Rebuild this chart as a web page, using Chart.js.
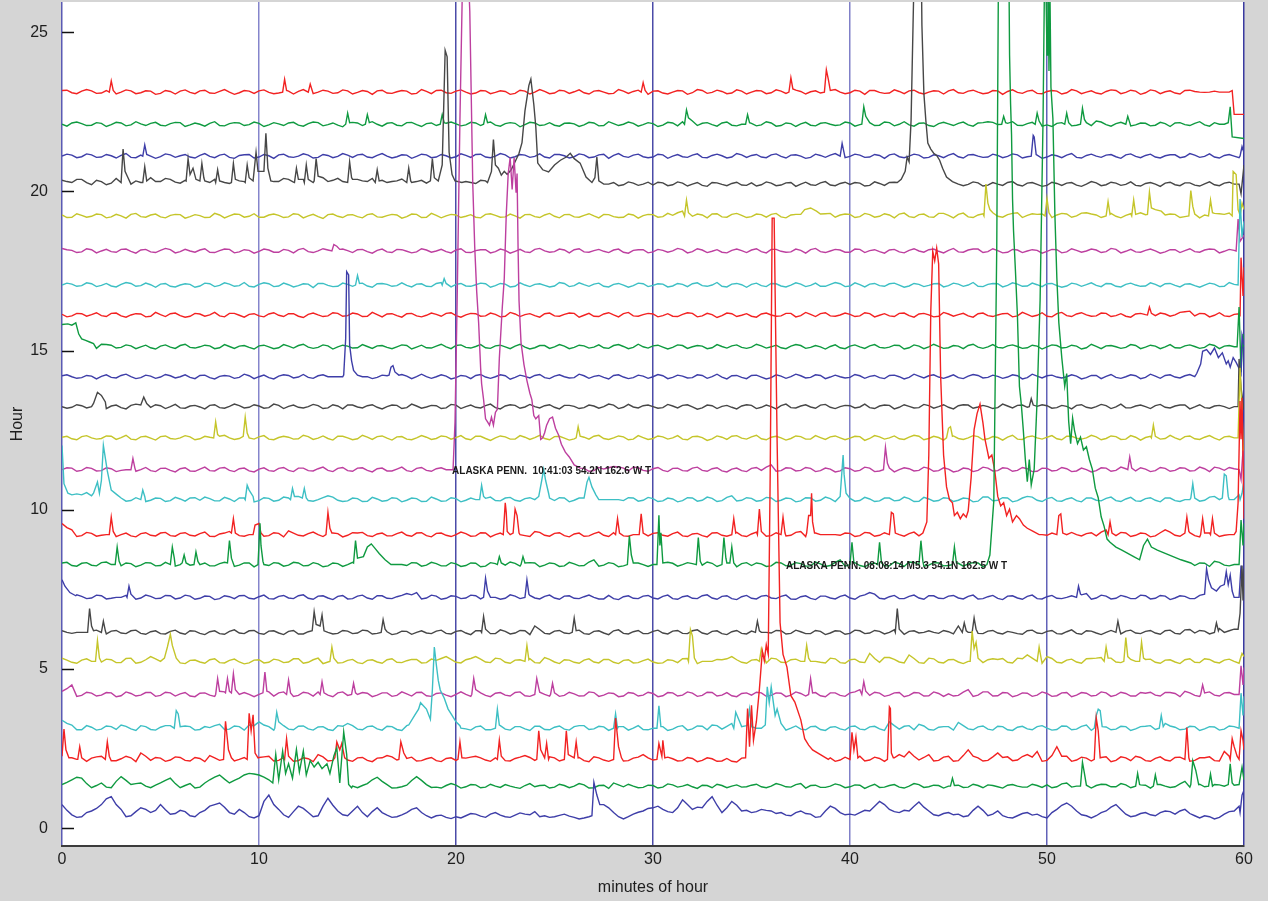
<!DOCTYPE html>
<html>
<head>
<meta charset="utf-8">
<script src="https://cdn.jsdelivr.net/npm/chart.js@4.4.1/dist/chart.umd.min.js"></script>
<style>
  html, body { margin: 0; padding: 0; background: #d5d5d5; }
  canvas { display: block; }
</style>
</head>
<body>
<canvas id="heli" width="1268" height="901"></canvas>
<script>
// Helicorder record: one trace per hour, plotted against minutes of the hour.
// Each trace = hour baseline + sampled wiggle (on-step and mid-step samples)
// + hand-read event segments that replace the samples they cover.

const SAMPLE_STEP = 0.5;   // minutes between on-step wiggle samples
const AMP_UNIT = 0.01;     // amplitudes are stored in hundredths of an hour row

const minuteTicks = [0, 10, 20, 30, 40, 50, 60];
const hourTicks = [0, 5, 10, 15, 20, 25];

const hourBaselines = [0.44, 1.32, 2.16, 3.14, 4.20, 5.24, 6.15, 7.25, 8.28, 9.22, 10.32, 11.26,
                       12.26, 13.24, 14.18, 15.12, 16.12, 17.06, 18.13, 19.23, 20.23, 21.11, 22.11, 23.12];

// ---- on-step wiggle, 121 values per hour (0, 0.5, ... 60 min) ----
const noise00 = [30,-2,-8,10,30,55,15,-5,20,5, 30,0,12,-5,5,25,35,5,15,-8, -5,60,15,-10,25,5,-5,50,10,-5, 25,-8,20,-3,-8,5,20,-5,-5,-10, -8,-5,0,-10,5,-8,-3,0,8,-5, -8,0,-10,-12,0,30,5,-15,0,10, 20,15,5,45,15,20,55,5,40,10, 5,15,10,5,-5,10,0,-8,25,5, 0,5,10,40,15,5,10,38,10,-5, 5,0,-5,25,-5,10,-10,-5,5,0, -12,15,35,10,-5,-5,10,30,0,-5, 5,-5,10,0,15,-5,-5,-15,0,10, 50];
const noise01 = [5,20,25,-5,10,-5,30,5,10,-5, 10,25,-5,8,-3,20,35,10,25,40, 35,20,0,0,0,0,0,0,0,0, -5,8,28,5,-5,3,30,5,-3,2, 3,-2,4,-3,0,5,-4,2,-2,3, -3,2,0,4,-5,3,10,-2,0,-4, 2,-3,4,0,-2,3,-5,2,0,-3, 3,-2,0,4,-3,8,2,-4,0,3, -2,3,0,-4,2,-3,0,5,-2,2, 0,3,-3,2,4,-2,3,0,-3,2, 4,-2,10,0,-3,2,5,-2,4,-3, 3,10,0,-2,15,3,-2,5,0,3, 5];
const noise02 = [0,5,-3,4,10,-4,2,5,20,-3, 4,-2,6,-5,3,12,-3,5,0,-4, 6,10,-3,5,-4,2,15,-5,10,-2, 5,-3,4,12,-2,3,-5,2,-4,3, -3,4,10,-2,5,-4,3,12,-3,2, 5,-3,15,-4,8,-2,3,-5,4,15, -2,8,2,-4,3,-3,2,-5,-6,4, 0,0,0,0,0,0,0,0,5,-2, 4,10,-2,3,-3,15,25,-2,15,-3, 10,-4,30,5,-3,20,8,-2,15,25, -3,40,10,-2,4,-4,8,-3,5,10, -4,3,-2,6,15,-3,5,-4,25,10, 0];
const noise03 = [25,10,-5,3,-3,5,10,-2,8,-4, 3,8,-2,5,-4,2,12,-3,5,10, 20,5,3,-3,6,-2,4,-4,8,15, -3,5,-2,6,-4,8,20,-3,0,0, 8,-2,4,-5,3,-3,5,-2,6,-4, 3,-3,5,8,-2,4,-3,5,0,-4, 0,5,-3,8,-2,6,10,-3,15,5, 20,0,0,0,0,-3,5,-4,3,-2, 5,-3,4,-2,20,-3,8,12,-4,3, 5,18,-2,4,-3,6,-5,3,-2,5, 0,-4,6,-3,10,0,4,-3,5,-2, 6,-4,15,3,-3,5,-2,4,-3,5, 20];
const noise04 = [10,30,-3,4,-2,5,-4,3,-2,6, -3,5,2,-5,4,-2,8,-3,0,0, 0,8,5,12,-3,4,8,-2,5,-3, 0,4,-2,5,-3,2,6,-4,3,-2, 0,0,5,-3,4,-2,6,-4,3,0, 5,-3,2,-4,6,-2,3,-5,4,-2, 3,-4,5,-2,4,-3,6,-2,-4,3, -2,5,-3,4,-2,3,0,-4,5,-3, 5,15,-3,4,-2,6,-3,5,-4,3, 2,-3,15,-2,8,-4,5,-3,4,-2, 3,-4,6,-2,4,-3,5,-2,3,-5, 4,-2,6,3,10,-3,4,-2,5,0, 0];
const noise05 = [10,-3,4,0,-2,5,-4,10,-3,15, 0,0,-5,3,-2,5,-4,3,-2,-5, 5,-3,4,-2,8,-3,10,-2,-5,3, -4,3,-2,5,-3,2,6,-4,3,15, -3,5,15,-2,10,-3,4,6,-4,12, -2,5,-3,4,-2,6,-3,3,-5,2, -2,-5,3,8,-4,0,0,5,15,-3, 4,-2,10,-3,5,0,0,-3,10,-4, 5,-2,25,-3,12,-2,20,-4,10,-3, 5,-2,0,-3,5,6,-3,10,20,-2, 15,-3,4,-2,8,10,25,-2,5,0, 6,-3,4,-2,5,-3,8,-2,4,0, 5];
const noise06 = [5,-3,0,0,0,4,-2,5,-3,2, -4,3,-2,5,-3,2,-4,3,-2,5, -3,4,-2,3,-5,2,0,0,-3,4, -2,5,-3,2,-4,3,0,-2,4,-3, 3,-2,5,0,-4,3,-2,5,20,-3, 4,-2,0,-4,3,-2,5,-3,2,-4, 3,-2,4,-3,5,-2,3,-4,2,-3, 4,0,-2,5,-3,2,-4,3,-2,4, -3,5,-2,3,0,-4,3,-2,5,-3, 2,20,0,-3,4,-2,3,-4,5,-2, 3,-4,2,-3,5,-2,0,-3,4,-2, 3,-2,5,-3,8,-2,4,20,0,10, 0];
const noise07 = [0,12,3,-2,5,-3,0,4,-2,3, -3,5,-2,4,-3,3,-4,2,5,-3, 2,-4,3,-2,5,-3,4,-2,3,-5, 4,-2,5,-3,2,12,15,-2,4,-3, 3,-2,5,0,0,-3,4,0,-2,3, -2,4,-3,2,0,-5,-4,2,-3,4, -2,3,-4,2,-3,5,-2,3,-4,2, -3,4,-2,3,-5,2,-3,4,-2,3, -2,4,15,-3,2,-4,3,-2,5,-3, 4,-2,3,-5,2,-3,4,-2,3,-4, 2,-3,0,5,12,-2,4,-3,2,-4, 5,-3,4,-2,3,-4,0,0,0,0, 0];
const noise08 = [5,-3,4,-2,6,0,-4,3,-2,5, -3,0,0,-2,0,-4,3,8,-2,5, 0,-3,4,-2,5,-3,2,-4,3,0, 0,0,0,0,0,-3,5,-2,3,-4, 2,-3,4,-5,3,-2,4,-3,5,-2, 3,-4,2,-3,15,-2,3,-4,0,0, 0,-3,4,0,3,-2,4,0,-2,3, -3,2,-4,5,-2,3,-4,2,-3,15, 0,-3,2,0,-4,3,8,0,-2,5, -3,4,2,5,-2,0,0,0,0,0, 0,0,0,0,0,0,0,0,0,0, 0,0,0,0,0,-3,4,10,-2,0, 8];
const noise09 = [35,15,-3,4,-2,3,0,-4,3,-2, 5,-3,4,-2,3,-5,2,10,-3,0, 0,-3,4,12,-2,3,0,-4,3,-2, 5,-3,2,-4,3,-2,5,-3,4,-2, 0,3,-4,5,0,0,0,-3,10,-2, 4,-3,2,-5,3,-2,6,-4,0,-3, 4,-2,3,-4,2,-3,5,-2,0,-3, 2,15,-3,4,-2,10,-3,0,0,-2, 4,-3,5,-2,0,0,3,-4,0,0, 0,0,0,0,0,0,0,0,0,0, -2,4,0,0,3,-4,15,-3,5,-2, 3,-4,15,-2,0,-3,5,0,-2,0, 0];
const noise10 = [0,20,15,12,20,25,5,-3,0,-2, 4,-3,2,5,-2,3,-4,2,5,0, -3,4,-2,5,10,-3,0,12,-2,-4, 3,-5,2,-3,4,-2,3,-5,2,-4, 3,-2,0,4,-3,5,-2,3,0,4, -3,5,-2,4,0,0,0,-3,5,-2, 3,-4,2,-3,5,-2,4,-3,12,-2, 4,-3,5,-2,3,-4,5,-2,3,0, 4,-3,2,-4,5,-2,3,-5,2,-3, 4,-2,3,-5,8,-2,5,-3,10,-2, 3,-4,2,-3,5,-2,4,-3,2,-4, 3,-2,5,-3,0,0,-2,10,0,0, 30];
const noise11 = [0,5,-2,4,-3,3,-2,0,0,-3, 4,-2,3,-4,2,-3,5,-2,3,-4, 2,-3,4,-2,5,-3,3,-2,4,-3, 5,-2,3,-4,2,-3,4,-2,3,0, 0,0,0,0,0,0,0,0,0,0, 0,0,0,4,-3,2,10,5,8,-2, 3,-2,4,-3,5,-2,3,-4,2,-3, 4,-2,15,-3,5,-2,4,-3,2,-4, 3,-2,5,-4,0,0,3,-2,4,-3, 2,-4,3,-2,5,-3,4,-2,3,-5, 4,-2,3,-4,0,-3,5,-2,3,-4, 2,-3,4,-2,5,-3,3,8,-2,3, 5];
const noise12 = [2,-3,4,0,-2,5,1,-4,3,-1, 4,-2,0,3,-3,2,5,0,-2,0, 3,-4,1,2,-3,4,-1,-2,5,0, -3,2,4,-1,3,-4,0,2,-2,4, 1,-3,5,-2,0,3,-4,2,1,-2, 4,-1,-3,2,5,-2,0,3,-4,1, -2,3,0,-4,4,1,-3,2,5,-1, 3,-3,2,0,-2,4,-4,1,3,0, -1,4,-2,3,0,-3,2,5,-2,1, 3,-2,0,4,-3,1,2,-4,3,0, 2,-3,5,-1,0,3,-2,4,-4,2, 1,3,-2,0,4,-3,2,-1,3,0, 0];
const noise13 = [0,-2,3,0,0,2,-3,4,1,-2, 3,0,-4,2,-1,4,-3,1,3,-2, 2,-3,4,1,-2,0,3,-4,2,5, -1,3,-2,0,4,-3,2,-1,3,-4, 5,0,-2,3,-3,2,4,-1,0,3, -2,4,1,-3,2,0,5,-2,-1,3, 0,-3,2,4,-1,-4,3,1,-2,2, 4,-2,0,3,-3,2,-1,5,-2,0, 3,-1,-3,2,4,-2,1,-3,3,0, -2,3,5,-1,0,-3,2,4,-2,1, 3,-3,1,4,-2,0,3,-1,-4,2, 0,3,-2,2,5,-1,-3,2,0,0, 0];
const noise14 = [3,0,-3,2,1,-2,4,0,-3,2, -1,3,0,-2,4,-3,1,2,-2,3, 0,-3,2,4,-1,-2,3,0,0,0, 0,0,-2,3,-1,2,0,0,0,2, -3,2,4,-1,0,3,-2,1,4,-3, 2,0,-3,3,1,-2,4,-1,-3,2, 0,3,-2,2,-3,4,0,-1,3,-2, 4,-1,-3,2,0,3,-2,4,-1,0, -2,3,1,-3,4,0,-2,2,3,-1, 0,-3,2,4,-2,1,-1,3,-3,2, 3,-1,0,2,-3,4,1,-2,0,3, -2,2,4,-1,3,0,0,0,0,0, 0];
const noise15 = [0,0,0,0,8,5,-2,3,0,-3, 2,-1,4,-2,0,3,-3,1,2,-2, 3,0,-3,2,4,-1,-2,3,0,2, -3,1,3,-2,0,4,-1,-3,2,0, 4,-2,1,-3,3,0,2,-1,-3,4, 0,2,-2,3,-1,-3,4,1,-2,0, 3,-1,-2,4,0,2,-3,1,3,-2, -1,3,0,-3,2,4,-2,0,1,-3, 2,0,3,-2,-1,4,-3,2,0,1, -3,2,4,-1,0,-2,3,1,-3,2, 0,4,-2,2,-3,1,3,0,-2,4, -1,2,0,-3,3,1,-2,4,2,0, 0];
const noise16 = [2,-3,4,1,-2,5,-3,0,3,-4, 1,4,-2,-4,3,0,-3,5,-1,2, -3,3,-1,4,-4,2,0,-3,5,-2, 3,-4,1,3,-2,4,-3,-1,2,5, -2,0,4,-3,2,-4,3,1,-2,4, -3,2,5,-1,-4,3,0,4,-3,1, 3,-2,-4,2,5,-3,1,-2,4,-1, -4,3,0,-3,5,-2,2,4,-3,0, 2,-3,4,-1,-3,5,-2,3,0,-4, 3,1,-3,4,-2,0,5,-3,2,-1, -4,4,-2,3,0,-3,5,-2,-4,3, 1,-2,3,0,10,-3,4,-1,-3,2, 0];
const noise17 = [0,3,-2,4,-1,-3,2,5,-2,1, 3,-4,0,2,-3,4,-1,3,-2,-4, 2,4,-3,1,-2,3,5,-1,-4,2, 0,-3,4,2,-2,-1,3,-4,5,0, 2,-3,1,4,-2,3,-4,0,2,-1, -3,5,-2,1,3,-4,2,0,-2,4, -1,3,-3,2,4,-2,0,-4,3,1, 2,-2,5,-3,0,3,-1,-4,2,4, -3,1,3,-2,4,0,-3,2,-1,5, -2,3,0,-4,2,4,-1,3,-3,1, 4,-2,-3,3,1,-1,5,-4,2,0, -3,2,4,-1,3,-2,0,3,-4,2, 0];
const noise18 = [8,2,-3,4,0,-2,5,-1,3,-3, 2,4,-2,0,3,-4,1,5,-3,2, -1,3,-4,2,4,-2,0,3,-3,1, 4,-2,2,-3,5,-1,-3,3,0,-2, 3,-4,1,4,-2,2,-1,-3,5,0, -2,3,4,-3,1,-1,3,-4,2,4, -3,2,0,4,-2,3,-1,-4,2,1, 3,-2,5,-1,-3,2,4,-2,0,3, -4,5,1,-2,3,-3,2,0,4,-1, 2,-3,3,6,-2,1,-4,3,0,2, -1,4,-3,2,0,3,-2,5,-1,-3, 2,0,-3,4,1,-2,3,5,-1,2, 0];
const noise19 = [3,-4,2,-1,4,-3,0,5,-2,3, -3,2,4,-2,1,-4,3,0,5,-1, -4,3,2,-3,5,0,-2,4,-1,3, -2,4,-3,1,3,-2,5,-4,2,0, 3,-1,-4,5,2,-3,0,4,-2,3, -1,4,-3,2,0,5,-2,-4,3,1, 4,-2,2,15,-1,3,6,-3,5,2, -2,4,5,-3,3,-1,2,6,8,3, 5,-2,4,-1,3,6,-2,4,-3,8, 2,5,-3,3,8,-1,4,10,2,5, -2,3,6,0,10,3,5,-1,2,6, 4,8,3,5,-2,6,3,8,5,4, 10];
const noise20 = [12,5,15,-2,8,3,10,0,5,20, 8,15,3,18,25,5,12,2,10,15, 5,20,8,15,5,12,25,8,18,5, 15,8,25,5,10,20,8,3,10,15, 5,8,2,10,5,0,0,0,0,0, 0,0,0,0,0,0,5,-2,3,0, -3,4,-2,3,0,-4,5,-1,2,-3, 4,-2,3,-3,5,0,-2,4,-3,2, -1,3,-4,2,5,0,0,0,0,0, -3,2,-1,4,-3,0,5,-2,3,-1, -4,2,3,-3,0,4,-2,3,-1,-4, 2,0,3,-2,4,-3,1,-2,3,0, 0];
const noise21 = [0,3,-2,4,-3,1,2,-4,3,0, -2,4,1,-3,2,-1,3,-4,2,5, -3,1,4,-2,0,3,-4,2,-1,3, 4,-3,2,0,-2,3,-1,4,-3,1, -2,2,5,-3,0,4,-2,3,-1,-3, 5,1,-2,4,-3,6,2,-1,3,-2, -3,4,0,-2,3,-4,2,1,-3,4, 2,-3,4,-1,3,0,-4,2,3,-2, -1,3,-3,2,4,-2,0,3,-4,1, 3,-2,4,0,-3,2,-1,4,-2,3, -3,1,3,-4,2,0,3,-2,4,-1, 2,-3,1,4,-2,3,-1,-3,2,0, 0];
const noise22 = [0,4,2,-3,3,-1,4,-2,1,3, -3,2,5,-2,0,3,-4,2,4,-1, 3,-2,1,4,-3,2,5,-1,-3,2, 4,-2,0,3,-3,5,-1,2,-4,3, 1,-2,4,0,-3,2,3,-1,4,-2, -3,3,1,-2,4,-4,2,0,3,-1, 2,-3,4,8,-2,3,-1,4,-3,0, 3,-2,4,-4,2,1,-3,3,0,-2, 4,-1,2,-3,5,0,-2,3,-4,2, 1,3,-2,4,8,-1,3,-3,2,5, -2,3,1,-3,5,10,-1,2,4,-2, 3,-3,2,4,-1,3,-2,5,0,-1, 0];
const noise23 = [5,-2,3,4,-3,2,0,4,-2,3, -4,2,3,-1,4,-3,2,0,-2,3, 4,-1,-3,3,2,-4,0,3,-2,4, -1,2,4,-3,1,3,-4,2,5,-2, 3,0,-3,4,-1,2,-4,3,0,2, -3,4,1,-2,3,0,-4,3,2,-1, 3,-3,0,4,-2,5,-1,2,-3,3, 0,4,-2,3,-4,2,1,-3,4,0, -2,3,5,-1,-3,2,4,-2,0,3, 4,-2,3,0,-3,4,2,-1,3,-4, 2,3,-2,4,0,-3,2,5,-1,3, -2,4,1,-3,5,2,-1,3,0,0, 0];

// ---- mid-step wiggle, 120 values per hour (0.25, 0.75, ... 59.75 min) ----
const mid00 = [12,-10,5,18,48,30,-8,8,15,12, 14,2,8,-8,12,30,22,0,5,-12, 40,30,-2,8,18,-8,25,28,-2,10, 5,8,5,-10,-2,15,5,-12,-3,-14, -12,2,-6,0,-3,-10,4,-2,-8,-10, -4,-6,-15,-8,0,20,-8,-8,6,18, 25,8,20,30,22,40,28,20,28,12, 8,12,2,-3,5,2,-10,10,18,-2, -3,12,25,30,8,12,25,22,-2,2, -2,-8,12,12,0,-5,-12,2,-3,-8, 5,28,25,-2,-12,5,22,15,-8,2, -2,5,8,10,2,-12,-8,-10,8,25];
const mid01 = [12,28,8,2,-3,15,18,8,0,3, 18,8,2,-6,10,28,22,18,35,38, 28,10,0,0,0,0,0,0,0,0, 2,20,15,-6,-2,18,18,-4,-6,8, -6,5,-5,6,-4,0,-7,8,2,-6, 6,-5,8,-6,2,-7,4,6,-5,3, -6,7,-3,5,-7,2,6,-5,4,-2, 6,-5,8,-2,5,-6,3,-4,7,-5, 4,-7,6,-3,5,-6,8,-4,3,-6, 7,-4,6,-5,2,-6,5,-3,6,-4, -5,7,-3,5,-6,6,-2,8,-5,4, -6,5,-4,7,-3,6,-5,4,-6,7];
const mid02 = [0,0,-6,8,6,-4,10,-7,10,6, -6,8,-3,6,-7,5,8,-5,6,-7, 8,-5,6,-6,5,-7,8,-3,7,-6, 6,-7,5,8,-6,7,-4,6,-7,5, -6,7,5,-6,8,-5,7,6,-6,8, -5,8,6,-7,5,-6,8,-4,7,5, -6,7,-5,6,-7,5,-6,3,-8,6, 0,0,0,0,0,0,0,0,-6,7, 6,-5,7,-6,5,8,10,6,-5,7, -6,12,10,-5,8,6,-4,9,7,-6, 12,10,-6,7,-5,6,-7,8,-4,6, -6,8,-5,7,-6,5,8,-5,10,0];
const mid03 = [15,-5,8,-6,7,-4,6,-7,5,-6, 8,-5,7,-6,5,8,-4,7,-6,8, 10,-6,8,-5,7,-6,5,-7,6,8, -5,7,-6,5,-7,8,10,0,0,0, 0,-6,7,-5,8,-6,5,-7,6,-5, 7,-6,8,-4,6,-7,5,-6,8,-5, 6,-7,5,-6,7,-5,8,6,-4,8, 0,0,0,-6,7,-5,6,-7,5,-6, 7,-5,6,-7,8,6,-5,7,-6,5, -6,8,-5,7,-6,5,-7,6,-5,8, -6,7,-5,6,-7,8,-5,6,-7,5, 8,-6,7,-5,6,-7,5,-6,7,10];
const mid04 = [18,-6,7,-5,6,-7,8,-5,6,-6, 7,-5,6,-7,5,-6,8,-5,6,-7, 6,-5,8,-6,7,-5,6,-7,8,-5, 6,-7,5,-6,8,-5,7,-6,5,-7, 8,-6,5,-7,6,-5,8,-6,7,-5, -6,7,-5,8,-6,5,-7,6,-5,7, -7,6,-5,8,-6,7,-5,6,-7,5, 7,-6,5,-7,8,-5,6,-7,5,-6, 8,-5,7,-6,5,-7,6,-5,8,-6, -5,7,-6,8,-5,6,-7,5,-6,8, -6,5,-7,6,-5,8,-6,7,-5,6, 7,-5,6,-7,5,-6,8,-5,6,-6];
const mid05 = [4,-6,8,-5,7,-4,9,-6,5,8, -6,5,-7,4,-6,8,-5,7,-8,4, -5,7,-4,8,-6,5,-7,9,-4,6, -7,5,-6,8,-4,6,-5,7,9,6, -5,9,7,-4,8,-6,5,8,-5,6, -7,4,-6,8,-5,6,-7,5,-4,7, -6,5,-4,9,-7,0,6,8,5,-6, 6,-5,8,-4,7,0,0,-5,8,-6, 7,-4,9,12,6,-5,9,-6,8,-5, 6,-7,5,-4,8,9,-5,8,10,-6, 9,-5,7,-6,9,12,10,-4,6,-5, 7,-6,5,-7,8,-4,6,-5,7,-6];
const mid06 = [0,0,0,7,-5,6,-4,7,-6,5, -5,7,-6,4,-7,5,-6,8,-4,6, -6,5,-7,6,-5,7,0,-5,6,-4, 7,-5,6,-7,4,-6,5,-4,7,-5, 6,-7,5,-4,8,-5,6,-7,9,-5, 6,-4,7,-6,5,-7,8,-5,6,-4, 7,-5,6,-4,8,-6,5,-7,6,-5, 7,0,6,-5,7,-4,6,-7,5,-6, 7,-4,6,-5,8,-6,5,0,0,6, -5,8,7,-4,6,-5,0,-6,7,-4, 6,-5,8,-6,4,-7,6,-5,7,-4, 6,-6,7,-5,9,6,-5,12,5,0];
const mid07 = [0,8,-4,7,-5,0,6,-6,7,-4, 6,-5,7,-6,4,-7,5,-4,6,-5, 7,-5,6,-4,8,-6,5,-7,6,-4, 7,-6,5,-4,6,8,-5,7,-6,5, -4,7,-5,0,-6,8,-4,6,-5,7, -6,5,-4,7,-5,6,-7,5,-4,6, -5,7,-6,5,-4,8,-6,5,-7,6, -5,6,-4,7,-6,5,-7,4,-5,7, -6,8,10,-5,6,-4,7,-6,5,-4, 6,-5,7,-4,6,-7,5,-6,7,-5, 6,-4,5,8,-6,7,-5,6,-4,7, -5,6,-7,5,-4,6,0,0,0,0];
const mid08 = [7,-5,6,-4,8,-6,5,-7,6,-4, 7,-5,0,-6,5,-4,7,-6,5,-7, 0,6,-5,7,-4,6,-7,5,-6,7, 0,0,0,0,0,6,-5,7,-4,6, -6,5,-7,6,-4,8,-5,6,-7,5, -6,7,-4,8,-5,6,-7,0,5,-6, 0,7,-5,6,-4,8,-6,5,-7,6, 5,-6,7,-4,6,-5,8,-6,7,-5, 6,-7,5,-4,8,-6,7,-5,6,-4, 7,-5,6,-7,0,0,0,0,0,0, 0,0,0,0,0,0,0,0,0,0, 0,0,0,0,0,5,-6,7,-4,6];
const mid09 = [22,-6,7,-5,0,-6,5,-7,6,-4, 7,-5,6,-4,8,-6,5,0,-5,7, -5,6,-7,5,-4,8,-6,5,-7,6, 7,-6,5,-4,8,-5,6,-7,5,-6, 8,-5,6,-7,5,0,0,-6,7,-5, 6,-7,5,-4,8,-6,7,-5,0,-4, 6,-5,8,-6,4,-7,6,-5,7,-6, 8,-5,6,-4,7,-6,5,0,0,5, -6,7,-5,6,0,-5,8,0,0,0, 0,0,0,0,0,0,0,0,0,0, 5,-6,7,-4,6,8,-5,7,-6,5, -7,6,8,-5,6,-7,5,-6,0,0];
const mid10 = [0,18,22,15,24,10,-5,6,-6,5, -6,7,-5,6,8,-4,7,-6,5,-7, 6,-5,8,-6,7,-5,6,8,-6,5, -6,7,-5,6,-7,5,-6,8,-5,6, -7,5,-6,8,-4,7,-5,6,-7,5, 6,-7,5,0,0,0,0,6,-5,7, -6,5,-7,6,-5,8,-6,7,-4,6, -5,7,-6,5,-7,6,-5,8,-6,0, -5,7,-6,5,-4,8,-6,7,-5,6, -6,5,-7,8,-4,6,-7,5,8,-6, 7,-5,6,-7,5,-4,8,-6,7,-5, 6,-7,5,-6,0,-5,8,0,0,15];
const mid11 = [6,-5,7,-4,6,-6,0,-5,7,-6, 5,-7,6,-5,8,-4,7,-6,5,-7, 6,-5,7,-6,5,-4,8,-6,7,-5, 6,-7,5,-4,8,-6,7,-5,6,0, 0,0,0,0,0,0,0,0,0,0, 0,0,0,-5,7,6,9,-4,6,-5, 7,-6,5,-4,8,-5,6,-7,5,-6, 7,8,-5,6,-4,7,-6,5,-7,6, -5,8,-6,5,-7,6,-4,8,-5,6, -7,5,-6,8,-4,6,-5,7,-6,5, -4,7,-6,5,-7,6,-5,8,-4,6, -6,7,-5,6,-4,8,-6,5,7,-5];
const mid12 = [5,-6,7,-4,6,-5,8,-6,5,-7, 6,-4,7,-6,5,-7,8,-5,6,-4, 7,-6,5,-4,8,-5,6,-7,5,-6, 8,-5,6,-7,4,-6,7,-5,6,-4, 7,-6,5,-8,6,-4,7,-5,8,-6, 5,-7,6,-4,8,-5,6,-6,7,-5, 6,-4,7,-6,5,-8,6,-5,7,-4, 8,-6,5,-7,6,-4,7,-5,6,-6, 5,-8,7,-4,6,-5,8,-6,5,-7, 6,-5,7,-6,4,-7,8,-5,6,-4, 7,-6,5,-4,8,-6,6,-5,7,-7, 5,-4,8,-6,6,-5,7,-7,5,-4];
const mid13 = [-5,6,-4,7,-6,5,-7,8,-5,6, -6,7,-5,4,-7,6,-5,8,-4,6, -5,8,-6,5,-4,7,-6,6,-7,5, -4,6,-7,5,-6,8,-5,4,-6,7, -6,5,-4,8,-7,6,-5,7,-4,6, -7,4,-6,5,-5,8,-6,7,-4,5, -5,7,-4,6,-8,5,-6,4,-7,6, -6,5,-7,8,-4,6,-5,7,-6,4, -4,8,-6,5,-7,6,-4,7,-5,6, -7,6,-5,4,-6,8,-4,5,-7,6, -5,4,-7,6,-5,7,-6,8,-4,5, -6,7,-4,5,-7,6,-5,4,-6,5];
const mid14 = [6,-5,4,-7,6,-4,8,-6,5,-5, 7,-4,6,-6,5,-7,4,-5,8,-6, 5,-7,6,-4,7,-5,6,0,0,0, 0,-6,5,-4,7,-6,8,-5,6,-7, 4,-6,7,-5,6,-8,5,-4,7,-6, 6,-4,8,-5,4,-7,6,-6,5,-5, 7,-6,5,-4,6,-5,8,-7,4,-6, 5,-7,6,-5,8,-4,6,-6,5,-4, 7,-5,4,-6,5,-7,8,-4,6,-5, 6,-6,7,-4,5,-5,6,-7,8,-4, 5,-4,6,-7,4,-6,7,-5,6,-6, 8,-5,6,-4,7,0,0,0,0,0];
const mid15 = [0,0,0,-5,7,-4,6,-6,5,-7, 6,-5,8,-4,5,-6,7,-5,4,-7, 5,-6,7,-4,8,-5,6,-7,5,-4, 7,-5,4,-6,6,-7,5,-4,8,-6, 6,-4,7,-5,5,-6,8,-7,4,-5, 7,-6,5,-4,6,-5,7,-6,8,-4, 5,-7,6,-5,4,-6,7,-4,6,-5, 8,-4,5,-6,7,-5,4,-7,6,-6, 6,-5,7,-4,5,-7,6,-6,8,-5, 4,-6,8,-5,7,-4,6,-5,5,-7, 6,-4,5,-7,8,-6,4,-5,7,-6, 5,-6,7,-4,6,-5,8,-6,4,-5];
const mid16 = [-6,5,-4,7,-5,6,-7,4,-6,8, -5,6,-7,5,-4,8,-6,5,-7,4, -6,7,-5,4,-8,6,-5,7,-4,6, -5,8,-6,4,-7,5,-6,6,-4,7, -7,5,-4,6,-6,8,-5,4,-7,6, -4,6,-7,5,-5,7,-6,8,-4,5, -6,4,-5,7,-6,5,-8,6,-5,4, -7,6,-4,5,-6,8,-5,7,-4,6, -5,7,-6,4,-5,6,-7,5,-6,8, -4,5,-7,6,-5,4,-6,8,-5,7, -6,8,-5,7,-4,6,-5,4,-7,5, -5,6,-4,8,12,5,-6,7,-5,4];
const mid17 = [6,-4,7,-5,5,-6,8,-4,6,-7, 5,-6,4,-7,6,-5,7,-4,8,-6, 7,-5,6,-6,4,-8,5,-5,6,-4, 6,-7,5,-4,7,-6,4,-5,8,-6, 5,-4,6,-7,5,-6,7,-5,4,-6, 8,-5,7,-4,6,-6,5,-7,6,-5, 4,-6,5,-5,7,-4,8,-6,5,-7, 6,-5,4,-6,7,-5,6,-4,8,-5, 7,-6,5,-4,6,-7,5,-5,4,-6, 6,-4,8,-5,5,-6,7,-4,6,-5, 5,-7,6,-4,7,-5,4,-6,6,-4, 7,-5,5,-6,4,-7,6,-5,8,-4];
const mid18 = [4,-5,7,-6,5,-4,6,-7,5,-5, 8,-6,5,-4,7,-5,6,-6,4,-7, 6,-4,5,-6,8,-5,7,-4,6,-5, 5,-7,6,-5,4,-6,7,-4,5,-6, 7,-5,4,-6,6,-7,5,-5,8,-4, 6,-6,7,-4,5,-5,6,-7,4,-6, 5,-4,8,-6,7,-5,4,-6,6,-5, 7,-6,5,-4,6,-7,8,-5,5,-4, 6,-5,4,-7,5,-6,7,-4,6,-6, 8,-4,6,-5,7,-6,5,-5,4,-7, 5,-6,7,-4,6,-5,8,-6,5,-4, 6,-7,4,-5,7,-4,6,-6,5,-5];
const mid19 = [-5,7,-4,6,-6,5,-7,8,-4,6, -6,5,-7,4,-5,8,-6,6,-4,7, -4,6,-5,7,-6,5,-8,6,-5,4, -6,7,-4,5,-7,6,-5,8,-6,5, -5,4,-6,7,-4,6,-7,5,-5,8, -6,5,-4,7,-6,4,-5,6,-7,5, -4,8,10,-5,6,-6,7,-4,8,-5, 6,-4,8,-6,5,-5,9,7,-4,6, -5,8,-4,7,-6,9,-5,6,-4,8, -6,9,-5,7,10,-4,8,-5,7,6, -5,8,-4,9,6,-5,8,-6,7,10, -4,9,6,-5,8,-6,10,7,9,12];
const mid20 = [8,15,5,12,-2,18,6,10,12,8, 18,6,12,20,10,15,5,14,8,20, 12,8,18,6,15,5,20,12,8,15, 10,18,12,8,16,5,12,8,6,10, 0,5,12,6,8,0,0,0,0,0, 0,0,0,0,0,0,-5,7,-4,6, 6,-5,7,-6,5,-7,4,-5,6,-4, -6,7,-5,4,-7,6,-4,8,-5,6, 5,-6,7,-4,6,0,0,0,0,0, 0,-5,7,-6,5,-4,8,-6,5,-7, 6,-4,5,-7,8,-5,6,-4,7,-6, 5,-7,6,-5,4,-6,7,-5,6,-4];
const mid21 = [6,-5,7,-4,5,-6,8,-5,6,-7, 7,-4,5,-6,8,-5,6,-7,4,-6, 5,-7,6,-4,7,-6,5,-5,8,-4, 6,-5,8,-6,4,-7,6,-5,5,-6, 7,-4,6,-5,8,-6,5,-4,7,-6, 5,-6,7,-5,4,-7,8,-4,6,-5, 6,-7,5,-4,7,-5,6,-6,8,-4, 5,-5,7,-6,4,-7,6,-4,8,-5, 6,-4,5,-7,7,-5,6,-6,4,-5, 8,-6,5,-4,6,-5,7,-6,5,-7, 4,-5,8,-6,6,-4,5,-7,7,-5, 6,-6,4,-5,8,-4,7,-6,5,-5];
const mid22 = [-6,7,-4,5,-7,6,-5,8,-4,6, -5,6,-7,4,-6,8,-5,5,-4,7, -7,5,-4,6,-6,7,-5,4,-8,6, -4,8,-6,5,-5,6,-7,4,-6,7, -5,6,-4,7,-6,5,-8,6,-4,5, -6,4,-7,6,-5,8,-4,7,-6,5, -7,6,-5,8,-4,5,-6,7,-5,4, -5,8,-6,4,-7,6,-5,5,-4,7, -6,5,-4,7,-5,8,-6,4,-7,6, -4,7,-6,5,6,-5,8,-4,6,-6, -7,5,-5,8,-4,7,-6,6,-5,4, -5,6,-7,5,-4,8,-6,0,0,0];
const mid23 = [6,-5,8,-4,5,-6,7,-5,4,-7, 5,-6,7,-5,6,-4,8,-7,5,-4, 7,-5,4,-6,8,-5,6,-4,7,-6, 5,-7,6,-4,5,-6,8,-5,6,-4, 7,-6,5,-5,4,-7,6,-6,8,-5, 6,-4,7,-6,5,-5,8,-4,6,-7, 4,-6,5,-7,8,-4,6,-5,7,-6, 5,-5,7,-4,6,-6,4,-7,8,-5, 6,-7,5,-4,7,-5,6,-6,4,-6, 8,-4,6,-5,5,-7,7,-4,6,-5, 5,-6,8,-5,4,-6,7,-5,6,-7, 7,-5,4,-6,6,0,0,0,0,0];

// ---- event segments: [minute, amplitude, minute, amplitude, ...] ----
const ev00 = [[26.9,-5,27.0,100,27.15,60,27.3,30],[59.8,5,59.9,60,60,75]];
const ev01 = [[10.7,10,10.85,100,11.0,20,11.2,110,11.35,40,11.5,70,11.7,25,11.9,115,12.05,45,12.25,110,12.4,35,12.6,80,12.8,60,13.0,75,13.2,55,13.45,70,13.6,40,13.8,95,13.95,120,14.1,10,14.3,170,14.45,100,14.55,5,14.7,-5],
  [45.1,0,45.2,25,45.3,2],[51.7,0,51.8,75,51.9,40,52.0,3],[54.5,0,54.6,40,54.7,5],[55.4,0,55.5,35,55.6,5],[57.3,5,57.4,80,57.55,50,57.7,5],[58.2,0,58.3,38,58.4,0],[59.2,5,59.3,70,59.4,10],[59.75,5,59.9,60,60,20]];
const ev02 = [[0,10,0.1,95,0.2,30,0.35,5],[0.8,0,0.9,40,1.0,5],[2.2,0,2.3,55,2.4,10],[8.2,0,8.3,120,8.45,30,8.6,5],[9.4,0,9.5,145,9.6,90,9.7,140,9.8,20,9.95,5],[11.3,0,11.4,65,11.5,10],[13.85,5,13.95,55,14.1,30,14.2,50,14.35,5],[17.1,0,17.2,55,17.35,20],[20.1,0,20.2,55,20.3,5],[22.1,0,22.2,60,22.3,10],[24.1,0,24.2,90,24.3,30,24.5,5,24.6,50,24.7,0],[25.5,0,25.6,90,25.7,15,26.0,5,26.1,55,26.2,5],[28.0,0,28.1,130,28.25,40,28.4,5],[30.2,0,30.3,50,30.45,10,30.5,60,30.6,5],
  [34.7,5,34.8,160,34.9,40,35.0,170,35.1,60,35.25,120,35.4,220,35.55,340,35.65,310,35.75,360,35.85,330,35.95,900,36.05,1700,36.15,1700,36.3,1000,36.45,430,36.6,330,36.8,290,37.0,200,37.2,180,37.5,125,37.7,65,37.9,45,38.1,30,38.5,15,38.9,0],
  [40.0,0,40.1,85,40.2,30,40.3,70,40.4,5],[41.9,0,42.0,165,42.05,160,42.1,20,42.2,5],[52.4,0,52.5,130,52.6,90,52.7,5],[57.0,0,57.1,100,57.2,5],[59.3,0,59.4,65,59.5,40,59.65,10],[59.75,0,59.85,90,59.95,60,60,30]];
const ev03 = [[5.7,0,5.8,55,5.9,45,6.0,5],[10.8,0,10.9,50,11.0,20,11.2,10],[17.6,10,17.9,40,18.1,60,18.2,80,18.5,60,18.7,28,18.8,120,18.9,255,19.0,200,19.1,150,19.2,120,19.4,95,19.6,60,19.8,40,20.0,20,20.2,8],[22.0,0,22.1,60,22.2,10],[28.0,0,28.1,45,28.2,0],[30.2,0,30.3,70,30.4,5],[34.1,0,34.2,50,34.4,20],[34.8,10,34.9,60,35.0,5],[35.7,10,35.8,130,35.9,80,36.0,130,36.2,40,36.3,60,36.5,15],[52.4,0,52.5,40,52.6,60,52.7,55,52.8,5],[55.7,0,55.8,40,55.9,5],[59.75,0,59.85,110,59.95,40,60,100]];
const ev04 = [[7.8,0,7.9,50,8.0,10],[8.3,5,8.4,50,8.5,10],[8.6,5,8.7,65,8.8,15],[10.2,5,10.3,70,10.4,10],[11.4,0,11.5,45,11.6,5],[13.1,0,13.2,40,13.3,5],[14.7,0,14.8,35,14.9,5],[20.8,0,20.9,50,21.0,15],[24.0,0,24.1,50,24.2,20],[24.8,0,24.9,35,25.0,5],[37.9,0,38.0,50,38.1,5],[40.6,0,40.7,40,40.8,10],[57.8,0,57.9,30,58.0,5],[59.75,0,59.85,90,59.95,30,60,85]];
const ev05 = [[1.7,0,1.8,65,1.9,10],[5.2,10,5.35,45,5.5,85,5.6,50,5.8,10],[13.6,0,13.7,45,13.8,10],[23.5,0,23.6,50,23.7,5],[31.8,0,31.9,100,32.0,80,32.1,10],[35.4,0,35.5,40,35.6,20],[37.7,0,37.8,50,37.9,10],[46.1,0,46.2,95,46.3,40,46.4,60,46.5,10],[49.5,0,49.6,45,49.7,10],[52.9,0,53.0,45,53.1,10],[53.9,0,54.0,75,54.1,15],[54.7,0,54.8,60,54.9,10],[59.8,5,59.9,25,60,15]];
const ev06 = [[1.3,0,1.4,75,1.5,20,1.6,5],[2.0,0,2.1,35,2.2,5],[12.7,5,12.8,65,12.9,25,13.1,20,13.2,55,13.3,5],[16.2,0,16.3,40,16.4,10],[21.3,0,21.4,50,21.5,10],[25.9,0,26.0,45,26.1,5],[35.2,0,35.3,35,35.4,5],[42.3,0,42.4,75,42.5,10],[45.7,0,45.8,30,45.9,5],[46.2,0,46.3,45,46.4,10],[53.5,0,53.6,35,53.7,5],[58.5,0,58.6,30,58.7,5],[59.7,10,59.8,60,59.9,210,59.95,100,60,200]];
const ev07 = [[0,55,0.15,35,0.4,15,0.7,5],[3.3,0,3.4,35,3.5,10],[21.4,0,21.5,60,21.6,20],[23.5,0,23.6,55,23.7,10],[51.5,0,51.6,35,51.7,10],[58.0,10,58.1,90,58.2,55,58.35,30,58.6,20,58.8,35,59.0,40,59.1,80,59.2,40,59.3,70,59.4,20],[59.75,0,59.85,100,59.95,40,60,90]];
const ev08 = [[2.7,0,2.8,55,2.9,10],[5.5,0,5.6,55,5.7,20],[6.1,5,6.2,30,6.3,5],[6.7,0,6.8,40,6.9,10],[8.4,5,8.5,75,8.6,20],[9.95,0,10.05,130,10.1,60,10.2,10],[14.8,5,14.9,75,15.0,20,15.3,25,15.5,55,15.7,65,15.9,50,16.1,35,16.4,15,16.7,0],[22.1,0,22.2,25,22.3,5],[23.3,0,23.4,25,23.5,5],[28.7,0,28.8,90,28.9,30,29.0,5],[30.2,0,30.3,155,30.35,60,30.4,100,30.5,5],[32.2,0,32.3,85,32.4,10],[33.5,0,33.6,85,33.7,20],[33.9,5,34.0,55,34.1,5],[40.0,0,40.1,70,40.2,5],[41.4,0,41.5,70,41.6,5],[43.5,0,43.6,75,43.7,10],[45.2,0,45.3,55,45.4,5],
  [46.95,0,47.1,30,47.3,200,47.45,1000,47.55,2000,48.05,2000,48.1,1600,48.15,1450,48.2,1350,48.25,1150,48.3,1050,48.4,920,48.5,780,48.6,560,48.7,500,48.8,420,48.9,330,49.0,260,49.1,330,49.2,250,49.35,300,49.5,520,49.65,830,49.8,1400,49.9,2000,50.0,1600,50.05,1900,50.1,1550,50.15,1800,50.2,1500,50.3,1400,50.4,1100,50.5,900,50.6,760,50.75,650,50.9,560,51.0,600,51.1,450,51.2,380,51.3,460,51.4,420,51.55,380,51.7,400,51.85,360,52.0,370,52.15,330,52.3,300,52.45,240,52.6,210,52.75,150,52.9,120,53.05,80,53.2,70,53.5,55,53.8,45,54.1,35,54.4,25,54.7,15,54.9,60,55.1,80,55.3,55,55.6,45,56.0,35,56.4,25,56.8,15,57.3,5],
  [59.75,0,59.85,140,59.95,60,60,130]];
const ev09 = [[2.4,0,2.5,55,2.6,10],[8.6,5,8.7,50,8.8,5],[9.7,0,9.8,30,10.0,35,10.1,5],[13.4,0,13.5,70,13.6,20,13.7,5],[22.4,0,22.5,100,22.55,70,22.6,10],[22.9,5,23.0,80,23.1,60,23.2,5],[28.1,0,28.2,50,28.3,5],[29.3,0,29.4,65,29.5,5],[34.0,0,34.1,50,34.2,5],[35.3,0,35.4,80,35.5,10],[36.5,0,36.6,55,36.7,5],[37.8,5,37.9,60,38.0,60,38.05,130,38.1,40,38.2,5],[42.0,0,42.1,70,42.2,65,42.3,5],
  [43.7,5,43.9,40,44.0,250,44.1,700,44.2,890,44.3,860,44.4,900,44.5,850,44.6,500,44.75,250,44.9,150,45.05,110,45.2,100,45.3,60,45.45,70,45.6,50,45.75,65,45.9,55,46.0,75,46.15,180,46.3,330,46.45,380,46.6,410,46.75,350,46.85,300,46.95,270,47.05,240,47.2,250,47.35,200,47.5,120,47.65,90,47.8,100,47.95,60,48.1,80,48.25,40,48.45,60,48.6,50,48.8,30,49.0,20,49.3,10,49.6,0],
  [50.5,0,50.6,60,50.7,65,50.8,5],[53.1,0,53.2,40,53.3,5],[57.0,5,57.1,55,57.2,10],[57.8,0,57.9,50,58.0,5],[58.3,0,58.4,50,58.5,5],[59.6,10,59.7,100,59.8,420,59.85,300,59.9,430,60,50]];
const ev10 = [[0,170,0.1,50,0.3,20,0.5,15],[1.6,20,1.8,55,1.9,20,2.0,60,2.1,170,2.2,130,2.3,90,2.5,30,2.8,15],[4.0,0,4.1,30,4.2,10],[9.3,0,9.4,45,9.5,30,9.7,10],[11.6,0,11.7,35,11.8,10],[12.2,5,12.3,35,12.4,5],[21.2,0,21.3,45,21.4,10],[24.2,10,24.35,60,24.45,95,24.55,60,24.7,20],[26.5,5,26.65,55,26.75,70,26.9,40,27.1,15],[39.5,10,39.65,140,39.7,80,39.8,20],[57.3,5,57.4,50,57.5,5],[58.9,5,59.0,80,59.1,75,59.2,10],[59.8,0,59.9,20,60,60]];
const ev11 = [[3.5,0,3.6,35,3.7,5],
  [19.85,0,19.95,150,20.05,500,20.2,1100,20.35,1600,20.6,1600,20.7,1440,20.85,900,20.95,700,21.05,560,21.15,460,21.25,320,21.3,270,21.4,220,21.5,160,21.6,150,21.7,140,21.8,165,21.9,140,22.0,180,22.1,190,22.2,350,22.35,510,22.45,600,22.55,800,22.65,930,22.75,980,22.85,880,22.95,980,23.05,870,23.1,930,23.15,700,23.2,530,23.3,400,23.45,330,23.6,280,23.75,240,23.85,220,23.95,170,24.05,160,24.2,170,24.3,95,24.4,100,24.5,116,24.6,140,24.75,160,24.9,165,25.05,130,25.2,110,25.35,80,25.55,55,25.75,40,26.0,15,26.3,5],
  [41.7,0,41.8,70,41.9,20,42.0,5],[54.1,0,54.2,40,54.3,5],[59.75,0,59.85,-30,59.95,60,60,10]];
const ev12 = [[7.7,0,7.8,50,7.9,10],[9.2,5,9.3,65,9.4,15],[26.1,0,26.2,35,26.3,5],[44.9,0,45.0,30,45.1,35,45.2,5],[55.3,0,55.4,40,55.5,5],[59.7,0,59.8,220,59.9,80,60,-100]];
const ev13 = [[1.6,10,1.8,45,2.0,35,2.2,15],[4.0,5,4.15,30,4.3,10],[49.1,0,49.2,25,49.3,5],[59.7,0,59.75,150,59.85,60,60,-10]];
const ev14 = [[14.3,5,14.4,120,14.45,330,14.55,320,14.6,100,14.7,50,14.8,20,15.0,5],[16.6,5,16.7,30,16.8,35,16.9,15,17.1,5],[57.6,10,57.8,40,57.9,80,58.1,85,58.3,70,58.5,90,58.7,60,58.9,75,59.1,40,59.2,50,59.3,30,59.45,60,59.6,45,59.8,20],[59.85,10,59.9,130,60,100]];
const ev15 = [[0,70,0.3,72,0.5,68,0.7,75,0.85,40,1.0,25,1.2,20,1.4,15,1.6,10],[59.65,0,59.75,125,59.85,-80,59.95,40,60,0]];
const ev16 = [[55.1,0,55.2,25,55.3,5],[59.8,0,59.85,180,59.95,60,60,150]];
const ev17 = [[14.9,0,15.0,30,15.1,5],[19.3,0,19.4,20,19.5,5],[59.7,0,59.8,270,59.9,150,60,200]];
const ev18 = [[13.7,0,13.8,20,13.95,15,14.1,5],[59.6,0,59.7,100,59.8,30,60,50]];
const ev19 = [[31.6,0,31.7,50,31.8,10],[37.5,5,37.7,20,38.0,25,38.3,15],[46.8,0,46.9,100,47.0,40,47.1,20],[49.9,0,50.0,55,50.1,10],[53.0,0,53.1,45,53.2,5],[54.3,0,54.4,50,54.5,5],[55.1,5,55.2,75,55.3,25,55.5,20,55.8,15],[57.2,0,57.3,80,57.4,30],[58.2,0,58.3,50,58.4,10],[59.4,0,59.45,140,59.6,130,59.7,20],[59.8,0,59.9,40,60,20]];
const ev20 = [[3.0,5,3.1,110,3.2,40,3.35,20],[4.1,5,4.2,55,4.3,10],[6.3,10,6.4,80,6.5,30,6.65,50,6.8,15],[7.0,10,7.1,65,7.2,20],[7.8,5,7.9,45,8.0,10],[8.6,5,8.7,65,8.8,15],[9.3,5,9.4,60,9.5,20,9.7,10,9.85,100,9.95,40,10.25,40,10.35,160,10.45,50,10.6,10],[11.8,5,11.9,50,12.0,15],[12.3,5,12.4,60,12.5,15],[12.8,10,12.9,80,13.0,25],[14.5,5,14.6,70,14.7,20],[15.9,5,16.0,45,16.1,10],[17.5,5,17.6,50,17.7,10],
  [18.7,10,18.8,80,18.9,20,19.1,10,19.3,60,19.45,420,19.55,400,19.65,100,19.8,30,19.95,10,20.3,5],
  [21.6,5,21.8,40,21.9,140,22.0,60,22.15,50,22.3,28,22.45,40,22.6,30,22.8,45,23.0,70,23.2,97,23.35,130,23.5,230,23.7,310,23.8,330,23.95,250,24.05,180,24.15,66,24.4,45,24.7,38,25.0,60,25.3,75,25.6,85,25.8,97,26.0,80,26.3,66,26.6,22,26.9,5,27.05,20,27.15,85,27.25,10,27.5,0],
  [42.4,5,42.6,15,42.8,40,42.9,85,43.0,70,43.1,200,43.2,500,43.3,800,43.6,800,43.65,500,43.75,285,43.85,200,43.95,129,44.1,110,44.25,97,44.4,90,44.55,75,44.7,50,44.9,22,45.2,8,45.5,0],
  [59.75,0,59.85,-30,60,60]];
const ev21 = [[4.1,0,4.2,35,4.3,5],[39.5,0,39.6,40,39.7,10],[49.2,0,49.3,65,49.35,60,49.45,5],[59.8,0,59.9,30,60,10]];
const ev22 = [[14.4,0,14.5,35,14.6,5],[15.4,0,15.5,30,15.6,5],[19.2,0,19.3,30,19.4,5],[21.4,0,21.5,30,21.6,5],[31.6,0,31.7,45,31.8,20,32.0,10],[34.7,0,34.8,30,34.9,5],[40.6,0,40.7,55,40.8,25,41.0,5],[47.7,0,47.8,25,47.9,5],[49.4,0,49.5,35,49.6,10],[50.9,0,51.0,35,51.1,5],[51.7,0,51.8,50,51.9,15],[54.0,0,54.1,25,54.2,5],[59.2,5,59.3,55,59.4,-40,60,-45]];
const ev23 = [[2.4,0,2.5,35,2.6,5],[11.2,0,11.3,40,11.4,5],[12.5,0,12.6,25,12.7,5],[29.4,0,29.5,30,29.6,5],[36.9,0,37.0,45,37.1,10],[38.7,0,38.8,70,38.9,40,39.0,5],[59.4,5,59.5,-70,60,-70]];

// Event annotations written on the record
const eventNotes = [
  { text: 'ALASKA PENN.  10:41:03 54.2N 162.6 W T', minute: 19.8, hour: 11.2 },
  { text: 'ALASKA PENN. 08:08:14 M5.3 54.1N 162.5 W T', minute: 36.75, hour: 8.22 }
];

const noiseByHour = [noise00,noise01,noise02,noise03,noise04,noise05,noise06,noise07,noise08,noise09,noise10,noise11,
                     noise12,noise13,noise14,noise15,noise16,noise17,noise18,noise19,noise20,noise21,noise22,noise23];
const midByHour = [mid00,mid01,mid02,mid03,mid04,mid05,mid06,mid07,mid08,mid09,mid10,mid11,
                   mid12,mid13,mid14,mid15,mid16,mid17,mid18,mid19,mid20,mid21,mid22,mid23];
const eventsByHour = [ev00,ev01,ev02,ev03,ev04,ev05,ev06,ev07,ev08,ev09,ev10,ev11,
                      ev12,ev13,ev14,ev15,ev16,ev17,ev18,ev19,ev20,ev21,ev22,ev23];

// ---- styling ----
const tracePalette = ['#3e3ea8', '#0f9a40', '#f22222', '#3dbfc4', '#bd3f9f', '#c5c52a', '#474747'];
const gridShades = ['#5a5ab4', '#8585cc', '#4b4ba8', '#4b4ba8', '#8080c8', '#6262b8', '#3a3aa0'];
const FONT = '"Liberation Sans", Arial, Helvetica, sans-serif';

function buildTrace(h) {
  const base = hourBaselines[h];
  const segs = eventsByHour[h];
  const spans = segs.map(s => [s[0], s[s.length - 2]]);
  const covered = t => spans.some(([a, b]) => t >= a && t <= b);
  const pts = [];
  noiseByHour[h].forEach((v, i) => {
    const t = i * SAMPLE_STEP;
    if (!covered(t)) pts.push({ x: t, y: base + v * AMP_UNIT });
  });
  midByHour[h].forEach((v, i) => {
    const t = i * SAMPLE_STEP + SAMPLE_STEP / 2;
    if (!covered(t)) pts.push({ x: t, y: base + v * AMP_UNIT });
  });
  segs.forEach(s => {
    for (let k = 0; k < s.length; k += 2) pts.push({ x: s[k], y: base + s[k + 1] * AMP_UNIT });
  });
  pts.sort((p, q) => p.x - q.x);
  return pts;
}

const datasets = hourBaselines.map((_, h) => ({
  label: 'hour ' + h,
  data: buildTrace(h),
  borderColor: tracePalette[h % tracePalette.length],
  borderWidth: 1.4,
  pointRadius: 0,
  tension: 0,
  fill: false
}));

const plotBackground = {
  id: 'plotBackground',
  beforeDraw(chart) {
    const { ctx, chartArea: a } = chart;
    ctx.save();
    ctx.fillStyle = '#d5d5d5';
    ctx.fillRect(0, 0, chart.width, chart.height);
    ctx.fillStyle = '#ffffff';
    ctx.fillRect(a.left, a.top, a.right - a.left, a.bottom - a.top);
    ctx.restore();
  }
};

const inwardTicks = {
  id: 'inwardTicks',
  afterDraw(chart) {
    const { ctx, chartArea: a } = chart;
    const ys = chart.scales.y;
    ctx.save();
    ctx.strokeStyle = '#111111';
    ctx.lineWidth = 1.5;
    ys.ticks.forEach(t => {
      const py = Math.round(ys.getPixelForValue(t.value)) + 0.5;
      ctx.beginPath();
      ctx.moveTo(a.left, py);
      ctx.lineTo(a.left + 12, py);
      ctx.stroke();
    });
    ctx.restore();
  }
};

const noteLabels = {
  id: 'noteLabels',
  afterDatasetsDraw(chart) {
    const { ctx } = chart;
    const xs = chart.scales.x, ys = chart.scales.y;
    ctx.save();
    ctx.fillStyle = '#1a1a1a';
    ctx.font = 'bold 10px ' + FONT;
    ctx.textAlign = 'left';
    ctx.textBaseline = 'middle';
    eventNotes.forEach(n => {
      ctx.fillText(n.text, xs.getPixelForValue(n.minute), ys.getPixelForValue(n.hour));
    });
    ctx.restore();
  }
};

new Chart(document.getElementById('heli'), {
  type: 'line',
  data: { datasets },
  plugins: [plotBackground, inwardTicks, noteLabels],
  options: {
    responsive: false,
    animation: false,
    events: [],
    layout: { padding: { top: 2, right: 24, left: 0, bottom: 0 } },
    plugins: { legend: { display: false }, tooltip: { enabled: false } },
    scales: {
      x: {
        type: 'linear',
        min: 0,
        max: 60,
        afterBuildTicks: s => { s.ticks = minuteTicks.map(v => ({ value: v })); },
        afterFit: s => { s.height = 55; s.paddingLeft = 0; s.paddingRight = 0; },
        ticks: { color: '#1e1e1e', font: { family: FONT, size: 16 }, padding: 4, maxRotation: 0 },
        grid: {
          drawTicks: false,
          lineWidth: 1.5,
          color: c => gridShades[c.index] || '#5a5ab4'
        },
        border: { display: true, color: '#3c3c3c', width: 2 },
        title: { display: true, text: 'minutes of hour', color: '#1e1e1e', font: { family: FONT, size: 16 }, padding: { top: 0, bottom: 4 } }
      },
      y: {
        type: 'linear',
        min: -0.56,
        max: 25.95,
        afterBuildTicks: s => { s.ticks = hourTicks.map(v => ({ value: v })); },
        afterFit: s => { s.width = 62; s.paddingTop = 0; s.paddingBottom = 0; },
        ticks: { color: '#1e1e1e', font: { family: FONT, size: 16 }, padding: 14 },
        grid: { display: false, drawTicks: false },
        border: { display: false },
        title: { display: true, text: 'Hour', color: '#1e1e1e', font: { family: FONT, size: 16 }, padding: { top: 8, bottom: 0 } }
      }
    }
  }
});
</script>
</body>
</html>
